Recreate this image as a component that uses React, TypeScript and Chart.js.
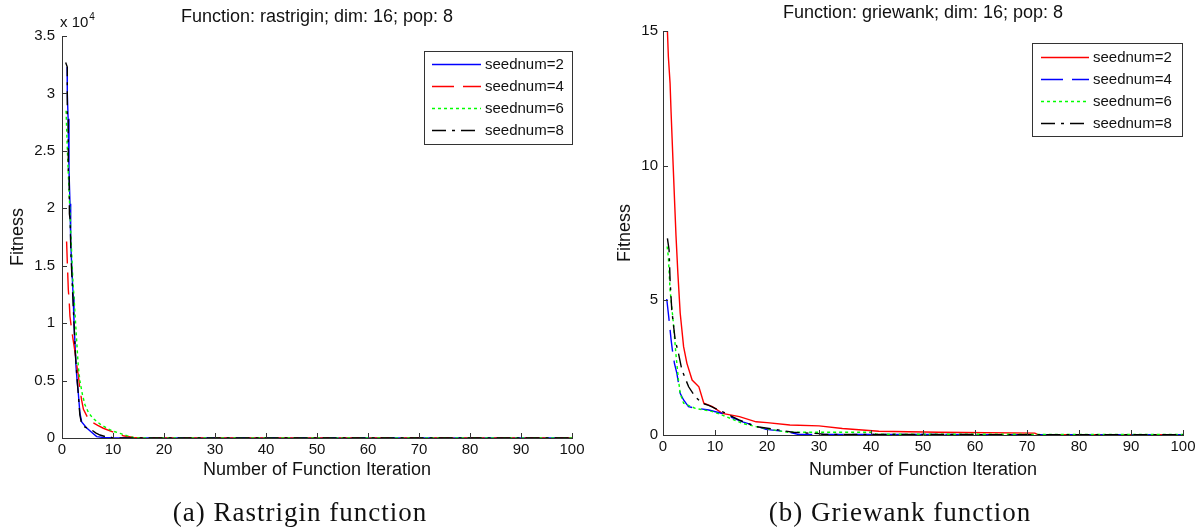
import React, { useEffect, useRef } from "react";
import { Chart, registerables } from "chart.js";

Chart.register(...registerables);

// ---------- data (x = iteration, y = fitness) ----------
const seriesLabels = ["seednum=2", "seednum=4", "seednum=6", "seednum=8"];
const rastriginColors = ["#0000ff", "#ff0000", "#00ff00", "#000000"];
const griewankColors = ["#ff0000", "#0000ff", "#00ff00", "#000000"];

// Rastrigin, fitness in units of 10^4
const rastriginSeed2: [number, number][] = [
  [1.0, 3.23], [1.04, 3.0], [1.2, 2.78], [1.37, 2.33], [1.57, 2.04], [1.7, 1.72],
  [1.95, 1.45], [2.2, 1.23], [2.35, 1.0], [2.55, 0.82], [2.75, 0.62], [3.0, 0.48],
  [3.2, 0.39], [3.5, 0.22], [3.86, 0.14], [4.8, 0.09], [5.8, 0.05], [6.8, 0.012],
  [8.0, 0.005], [10, 0.002], [15, 0.001], [100, 0.0005],
];
const rastriginSeed4: [number, number][] = [
  [0.9, 1.71], [1.05, 1.52], [1.24, 1.29], [1.4, 1.2], [1.56, 1.06], [1.9, 0.94],
  [2.2, 0.85], [2.55, 0.75], [3.0, 0.6], [3.2, 0.55], [3.5, 0.43], [3.85, 0.33],
  [4.2, 0.25], [5.0, 0.18], [5.8, 0.14], [7, 0.11], [8.1, 0.085], [10.1, 0.05],
  [12, 0.02], [14, 0.004], [15, 0.001], [100, 0.0005],
];
const rastriginSeed6: [number, number][] = [
  [0.8, 2.85], [1.0, 2.57], [1.24, 2.3], [1.57, 1.95], [1.9, 1.61], [2.1, 1.4],
  [2.35, 1.23], [2.6, 1.05], [2.87, 0.85], [3.2, 0.62], [3.5, 0.5], [4.0, 0.38],
  [4.5, 0.29], [5.2, 0.22], [6.1, 0.17], [7.5, 0.12], [8.8, 0.085], [10, 0.06],
  [11.4, 0.04], [12.7, 0.02], [14, 0.004], [15, 0.001], [100, 0.0005],
];
const rastriginSeed8: [number, number][] = [
  [0.72, 3.27], [1.04, 3.23], [1.04, 2.77], [1.23, 2.77], [1.23, 2.33], [1.4, 2.33],
  [1.45, 1.95], [1.6, 1.9], [1.75, 1.6], [2.0, 1.35], [2.3, 1.05], [2.6, 0.75],
  [2.9, 0.55], [3.2, 0.38], [3.5, 0.2], [3.86, 0.12], [4.5, 0.095], [5.8, 0.07],
  [6.6, 0.045], [7.45, 0.026], [8.5, 0.012], [9.7, 0.006], [9.8, 0.001], [100, 0.0005],
];

// Griewank
const griewankSeed2: [number, number][] = [
  [0.85, 15], [1.03, 14.05], [1.36, 13.06], [1.55, 12.0], [1.75, 11.02], [1.95, 10.03],
  [2.27, 8.48], [2.5, 7.4], [2.86, 6.0], [3.31, 4.52], [3.96, 3.28], [4.6, 2.66],
  [5.6, 2.04], [6.9, 1.79], [7.85, 1.18], [9.5, 1.05], [11.4, 0.8], [14.7, 0.68],
  [17.9, 0.49], [20, 0.46], [24.4, 0.37], [30, 0.34], [34.5, 0.24], [41.5, 0.14],
  [53, 0.1], [71.5, 0.07], [72, 0.02], [100, 0.01],
];
const griewankSeed4: [number, number][] = [
  [0.72, 5.05], [1.17, 4.27], [1.56, 3.53], [1.8, 3.16], [2.2, 2.66], [2.67, 2.29],
  [3.3, 1.55], [3.96, 1.3], [4.9, 1.05], [6.1, 1.0], [8.8, 0.93], [11.4, 0.8],
  [15.3, 0.49], [19.8, 0.21], [24, 0.12], [26, 0.02], [100, 0.01],
];
const griewankSeed6: [number, number][] = [
  [0.8, 7.0], [1.03, 6.6], [1.36, 5.38], [2.0, 4.15], [2.47, 3.03], [2.98, 2.04],
  [3.3, 1.55], [3.96, 1.18], [6.2, 0.99], [9.5, 0.87], [11.4, 0.74], [15.3, 0.43],
  [17.9, 0.31], [21.2, 0.19], [24, 0.1], [40, 0.1], [41, 0.03], [100, 0.02],
];
const griewankSeed8: [number, number][] = [
  [0.85, 7.3], [1.17, 6.87], [1.36, 5.75], [1.69, 4.64], [2.34, 3.53], [2.98, 3.03],
  [3.64, 2.41], [4.93, 1.79], [6.2, 1.42], [7.5, 1.18], [8.8, 1.1], [11.4, 0.87],
  [14.6, 0.56], [17.9, 0.31], [21.2, 0.22], [25, 0.1], [30, 0.05], [31, 0.02], [100, 0.01],
];

const xTickStep = 10;
const rastriginYTickStep = 0.5;
const griewankYTickStep = 5;

// ---------- styling ----------
const SANS = "'Liberation Sans', Arial, Helvetica, sans-serif";
const AXIS = "#333333";
const TEXT = "#111111";
const DASHED = [22, 9];
const DOTTED = [3, 3];
const DASHDOT = [14, 6, 3, 6];
const lineStyles = [[], DASHED, DOTTED, DASHDOT];

const matlabDecor = {
  id: "matlabDecor",
  afterDraw(chart: any, _args: any, opts: any) {
    const ctx = chart.ctx as CanvasRenderingContext2D;
    const { left, right, bottom } = chart.chartArea;
    const xs = chart.scales.x;
    const ys = chart.scales.y;
    ctx.save();
    // inward tick marks
    ctx.strokeStyle = AXIS;
    ctx.lineWidth = 1;
    ctx.setLineDash([]);
    ctx.beginPath();
    xs.ticks.forEach((t: any) => {
      const px = Math.round(xs.getPixelForValue(t.value)) + 0.5;
      ctx.moveTo(px, bottom);
      ctx.lineTo(px, bottom - 5);
    });
    ys.ticks.forEach((t: any) => {
      const py = Math.round(ys.getPixelForValue(t.value)) + 0.5;
      ctx.moveTo(left, py);
      ctx.lineTo(left + 5, py);
    });
    ctx.stroke();

    // title
    ctx.fillStyle = TEXT;
    ctx.font = `18px ${SANS}`;
    ctx.textAlign = "center";
    ctx.textBaseline = "middle";
    ctx.fillText(opts.title, (left + right) / 2, opts.titleY);

    // exponent label
    if (opts.exponent) {
      ctx.textAlign = "left";
      ctx.textBaseline = "alphabetic";
      ctx.font = `15px ${SANS}`;
      ctx.fillText("x 10", left - 2, 27);
      const w = ctx.measureText("x 10").width;
      ctx.font = `10px ${SANS}`;
      ctx.fillText(opts.exponent, left - 2 + w + 1, 20);
    }

    // legend
    const lg = opts.legend;
    ctx.fillStyle = "#ffffff";
    ctx.fillRect(lg.x0, lg.y0, lg.x1 - lg.x0, lg.y1 - lg.y0);
    ctx.strokeStyle = AXIS;
    ctx.lineWidth = 1;
    ctx.strokeRect(lg.x0 + 0.5, lg.y0 + 0.5, lg.x1 - lg.x0, lg.y1 - lg.y0);
    const colors: string[] = opts.colors;
    chart.data.datasets.forEach((ds: any, i: number) => {
      const y = Math.round(lg.rowY0 + i * lg.rowStep) + 0.5;
      ctx.save();
      ctx.strokeStyle = colors[i];
      ctx.lineWidth = 1.4;
      ctx.setLineDash(lineStyles[i]);
      ctx.beginPath();
      ctx.moveTo(lg.lineX0, y);
      ctx.lineTo(lg.lineX1, y);
      ctx.stroke();
      ctx.restore();
      ctx.fillStyle = TEXT;
      ctx.font = `15px ${SANS}`;
      ctx.textAlign = "left";
      ctx.textBaseline = "middle";
      ctx.fillText(ds.label, lg.textX, y + 0.5);
    });
    ctx.restore();
  },
};

function makeDataset(label: string, pts: [number, number][], color: string, dash: number[], order: number) {
  return {
    label,
    data: pts.map(([x, y]) => ({ x, y })),
    borderColor: color,
    backgroundColor: color,
    borderDash: dash,
    borderWidth: 1.4,
    pointRadius: 0,
    tension: 0,
    fill: false,
    order,
  };
}

const plainNumber = (v: any) => `${Math.round(Number(v) * 1000) / 1000}`;

function makeConfig(p: {
  datasets: any[];
  colors: string[];
  yMax: number;
  yStep: number;
  pad: { left: number; right: number; top: number; bottom: number };
  yWidth: number;
  xHeight: number;
  yTickPad: number;
  title: string;
  titleY: number;
  exponent?: string;
  legend: any;
}): any {
  return {
    type: "line",
    data: { datasets: p.datasets },
    options: {
      animation: false,
      responsive: false,
      maintainAspectRatio: false,
      layout: { padding: p.pad },
      scales: {
        x: {
          type: "linear",
          min: 0,
          max: 100,
          afterFit: (s: any) => {
            s.height = p.xHeight;
          },
          ticks: {
            stepSize: xTickStep,
            padding: 3,
            color: TEXT,
            font: { family: SANS, size: 15 },
            maxRotation: 0,
            callback: plainNumber,
          },
          grid: { display: false, drawTicks: false },
          border: { display: true, color: AXIS, width: 1 },
          title: {
            display: true,
            text: "Number of Function Iteration",
            color: TEXT,
            font: { family: SANS, size: 18 },
            padding: { top: 0, bottom: 0 },
          },
        },
        y: {
          type: "linear",
          min: 0,
          max: p.yMax,
          afterFit: (s: any) => {
            s.width = p.yWidth;
          },
          ticks: {
            stepSize: p.yStep,
            padding: p.yTickPad,
            color: TEXT,
            font: { family: SANS, size: 15 },
            callback: plainNumber,
          },
          grid: { display: false, drawTicks: false },
          border: { display: true, color: AXIS, width: 1 },
          title: {
            display: true,
            text: "Fitness",
            color: TEXT,
            font: { family: SANS, size: 18 },
            padding: { top: 0, bottom: 0 },
          },
        },
      },
      plugins: {
        legend: { display: false },
        tooltip: { enabled: false },
        title: { display: false },
        colors: { enabled: false },
        matlabDecor: { title: p.title, titleY: p.titleY, exponent: p.exponent, legend: p.legend, colors: p.colors },
      },
    },
    plugins: [matlabDecor],
  };
}

function ChartCanvas({ config, left }: { config: () => any; left: number }) {
  const ref = useRef<HTMLCanvasElement | null>(null);
  useEffect(() => {
    if (!ref.current) return;
    const chart = new Chart(ref.current, config());
    return () => chart.destroy();
  }, []);
  return (
    <canvas
      ref={ref}
      width={600}
      height={530}
      style={{ position: "absolute", left, top: 0, width: 600, height: 530 }}
    />
  );
}

const rastriginConfig = () =>
  makeConfig({
    datasets: [
      makeDataset(seriesLabels[0], rastriginSeed2, rastriginColors[0], lineStyles[0], 4),
      makeDataset(seriesLabels[1], rastriginSeed4, rastriginColors[1], lineStyles[1], 3),
      makeDataset(seriesLabels[2], rastriginSeed6, rastriginColors[2], lineStyles[2], 2),
      makeDataset(seriesLabels[3], rastriginSeed8, rastriginColors[3], lineStyles[3], 1),
    ],
    colors: rastriginColors,
    yMax: 3.5,
    yStep: rastriginYTickStep,
    pad: { left: 7, right: 28, top: 36, bottom: 49 },
    yWidth: 55,
    xHeight: 43,
    yTickPad: 7,
    title: "Function: rastrigin; dim: 16; pop: 8",
    titleY: 17,
    exponent: "4",
    legend: { x0: 424, y0: 51, x1: 572, y1: 144, lineX0: 432, lineX1: 481, textX: 485, rowY0: 64, rowStep: 22 },
  });

const griewankConfig = () =>
  makeConfig({
    datasets: [
      makeDataset(seriesLabels[0], griewankSeed2, griewankColors[0], lineStyles[0], 4),
      makeDataset(seriesLabels[1], griewankSeed4, griewankColors[1], lineStyles[1], 3),
      makeDataset(seriesLabels[2], griewankSeed6, griewankColors[2], lineStyles[2], 2),
      makeDataset(seriesLabels[3], griewankSeed8, griewankColors[3], lineStyles[3], 1),
    ],
    colors: griewankColors,
    yMax: 15,
    yStep: griewankYTickStep,
    pad: { left: 14, right: 17, top: 31, bottom: 49 },
    yWidth: 49,
    xHeight: 46,
    yTickPad: 5,
    title: "Function: griewank; dim: 16; pop: 8",
    titleY: 13,
    legend: { x0: 432, y0: 43, x1: 582, y1: 136, lineX0: 441, lineX1: 489, textX: 493, rowY0: 57, rowStep: 22 },
  });

const captionStyle: React.CSSProperties = {
  position: "absolute",
  top: 496,
  width: 600,
  textAlign: "center",
  fontFamily: "'Liberation Serif', 'Times New Roman', serif",
  fontSize: 27,
  letterSpacing: 1,
  lineHeight: "32px",
  color: "#111",
  whiteSpace: "nowrap",
};

export default function App() {
  useEffect(() => {
    document.body.style.margin = "0";
    document.body.style.background = "#ffffff";
  }, []);
  return (
    <div style={{ position: "relative", width: 1200, height: 530, overflow: "hidden", background: "#fff" }}>
      <ChartCanvas config={rastriginConfig} left={0} />
      <ChartCanvas config={griewankConfig} left={600} />
      <div style={{ ...captionStyle, left: 0 }}>(a) Rastrigin function</div>
      <div style={{ ...captionStyle, left: 600 }}>(b) Griewank function</div>
    </div>
  );
}
